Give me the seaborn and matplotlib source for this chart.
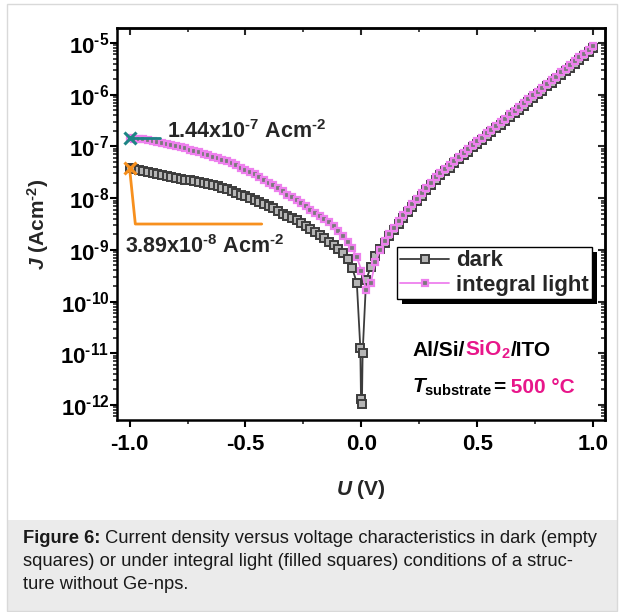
import numpy as np
import pandas as pd
import matplotlib
matplotlib.use('Agg')
import matplotlib.pyplot as plt
import matplotlib.ticker as mticker
from matplotlib.patches import Rectangle
from matplotlib.transforms import offset_copy, IdentityTransform
import seaborn as sns

sns.set_style('ticks')
plt.rcParams['font.family'] = ['Liberation Sans', 'DejaVu Sans']
plt.rcParams['mathtext.fontset'] = 'custom'
plt.rcParams['mathtext.rm'] = 'Liberation Sans:bold'
plt.rcParams['mathtext.it'] = 'Liberation Sans:italic:bold'
plt.rcParams['mathtext.bf'] = 'Liberation Sans:bold'
plt.rcParams['axes.unicode_minus'] = False

# sweep voltages (V)
U_neg = [-1.00, -0.98, -0.96, -0.94, -0.92, -0.90, -0.88, -0.86, -0.84, -0.82,
         -0.80, -0.78, -0.76, -0.74, -0.72, -0.70, -0.68, -0.66, -0.64, -0.62,
         -0.60, -0.58, -0.56, -0.54, -0.52, -0.50, -0.48, -0.46, -0.44, -0.42,
         -0.40, -0.38, -0.36, -0.34, -0.32, -0.30, -0.28, -0.26, -0.24, -0.22,
         -0.20, -0.18, -0.16, -0.14, -0.12, -0.10, -0.08, -0.06, -0.04, -0.02]
U_pos = [0.02, 0.04, 0.06, 0.08, 0.10, 0.12, 0.14, 0.16, 0.18, 0.20,
         0.22, 0.24, 0.26, 0.28, 0.30, 0.32, 0.34, 0.36, 0.38, 0.40,
         0.42, 0.44, 0.46, 0.48, 0.50, 0.52, 0.54, 0.56, 0.58, 0.60,
         0.62, 0.64, 0.66, 0.68, 0.70, 0.72, 0.74, 0.76, 0.78, 0.80,
         0.82, 0.84, 0.86, 0.88, 0.90, 0.92, 0.94, 0.96, 0.98, 1.00]
U_dark_zero = [-0.005, -0.002, 0.002, 0.005]
U_light_zero = [0.00]

# log10 of J (A/cm2)
logJ_dark_neg = [-7.41, -7.43, -7.45, -7.47, -7.49, -7.51, -7.53, -7.55, -7.57, -7.59,
                 -7.61, -7.63, -7.64, -7.65, -7.67, -7.69, -7.71, -7.73, -7.75, -7.77,
                 -7.80, -7.83, -7.87, -7.90, -7.93, -7.96, -8.00, -8.03, -8.07, -8.11,
                 -8.16, -8.20, -8.25, -8.30, -8.35, -8.39, -8.43, -8.48, -8.54, -8.59,
                 -8.65, -8.71, -8.78, -8.85, -8.91, -8.98, -9.07, -9.18, -9.35, -9.64]
logJ_dark_zero = [-10.89, -11.89, -11.98, -11.00]
logJ_dark_pos = [-9.58, -9.33, -9.12, -8.98, -8.86, -8.74, -8.62, -8.50, -8.38, -8.27,
                 -8.17, -8.06, -7.96, -7.85, -7.75, -7.65, -7.56, -7.48, -7.41, -7.33,
                 -7.25, -7.17, -7.10, -7.02, -6.95, -6.88, -6.80, -6.73, -6.65, -6.58,
                 -6.51, -6.43, -6.36, -6.29, -6.21, -6.14, -6.06, -5.99, -5.92, -5.84,
                 -5.77, -5.70, -5.62, -5.55, -5.48, -5.40, -5.33, -5.26, -5.18, -5.10]

logJ_light_neg = [-6.84, -6.85, -6.85, -6.86, -6.88, -6.90, -6.92, -6.94, -6.96, -6.98,
                  -7.00, -7.02, -7.04, -7.06, -7.08, -7.11, -7.14, -7.17, -7.20, -7.23,
                  -7.26, -7.29, -7.33, -7.36, -7.41, -7.45, -7.50, -7.54, -7.59, -7.64,
                  -7.70, -7.75, -7.81, -7.87, -7.93, -7.98, -8.04, -8.10, -8.16, -8.22,
                  -8.28, -8.34, -8.40, -8.46, -8.54, -8.63, -8.73, -8.84, -8.97, -9.14]
logJ_light_zero = [-9.40]
logJ_light_pos = [-9.78, -9.64, -9.24, -9.00, -8.82, -8.70, -8.58, -8.45, -8.33, -8.22,
                  -8.12, -8.01, -7.91, -7.80, -7.70, -7.59, -7.51, -7.43, -7.36, -7.28,
                  -7.20, -7.12, -7.05, -6.97, -6.90, -6.83, -6.75, -6.68, -6.60, -6.53,
                  -6.46, -6.38, -6.31, -6.24, -6.16, -6.09, -6.01, -5.94, -5.87, -5.79,
                  -5.72, -5.65, -5.57, -5.50, -5.43, -5.35, -5.28, -5.21, -5.13, -5.06]

# marked values at U = -1 V
U_mark = -1.0
J_mark_light = 1.44e-7
J_mark_dark = 3.89e-8
HY = '\u2010'  # short hyphen for the exponents
label_light = '1.44x10$^{%s7}$ Acm$^{%s2}$' % (HY, HY)
label_dark = '3.89x10$^{%s8}$ Acm$^{%s2}$' % (HY, HY)

dark = pd.DataFrame({'U': U_neg + U_dark_zero + U_pos,
                     'J': 10 ** np.array(logJ_dark_neg + logJ_dark_zero + logJ_dark_pos)})
light = pd.DataFrame({'U': U_neg + U_light_zero + U_pos,
                      'J': 10 ** np.array(logJ_light_neg + logJ_light_zero + logJ_light_pos)})

PINK = '#e8168a'
VIOLET = '#ee80ee'
TEAL = '#1d8585'
ORANGE = '#f7901e'

fig = plt.figure(figsize=(6.24, 6.12), dpi=100)
ax = fig.add_axes([117/624, 1 - 420/612, 488/624, 392/612])

sns.lineplot(data=dark, x='U', y='J', ax=ax, sort=False, estimator=None,
             color='#3c3c3c', lw=1.3, marker='s', ms=5.2, mew=1.4,
             mfc='#b5b5b5', mec='#3c3c3c', label='dark', zorder=3)
sns.lineplot(data=light, x='U', y='J', ax=ax, sort=False, estimator=None,
             color=VIOLET, lw=1.3, marker='s', ms=5.0, mew=1.6,
             mfc='#7a7a7a', mec=VIOLET, label='integral light', zorder=4)

ax.set_yscale('log')
ax.set_xlim(-1.054, 1.05)
ax.set_ylim(10 ** -12.29, 10 ** -4.71)

# markers of the values at -1 V
ax.plot([U_mark, -0.87], [J_mark_light, J_mark_light], color=TEAL, lw=2, zorder=5)
ax.plot([U_mark], [J_mark_light], marker='x', color=TEAL, ms=8, mew=2.2, zorder=6)
ax.plot([U_mark, -0.975, -0.43], [J_mark_dark, 3.16e-9, 3.16e-9], color=ORANGE, lw=2, zorder=5)
ax.plot([U_mark], [J_mark_dark], marker='x', color=ORANGE, ms=8, mew=2.2, zorder=6)
ax.text(-0.84, J_mark_light, label_light, fontsize=15.5, fontweight='bold', va='baseline')
ax.text(-1.02, 8.7e-10, label_dark, fontsize=15.5, fontweight='bold', va='baseline')

# axes styling
for sp in ax.spines.values():
    sp.set_linewidth(1.8)
    sp.set_color('black')
    sp.set_visible(True)
ax.xaxis.set_major_locator(mticker.MultipleLocator(0.5))
ax.xaxis.set_minor_locator(mticker.MultipleLocator(0.25))
ax.xaxis.set_major_formatter(mticker.FormatStrFormatter('%.1f'))
ax.yaxis.set_major_locator(mticker.LogLocator(base=10, numticks=20))
ax.yaxis.set_minor_locator(mticker.LogLocator(base=10, subs=np.arange(2, 10), numticks=20))
ax.yaxis.set_major_formatter(mticker.FuncFormatter(
    lambda v, p: r'$10^{%s%d}$' % (HY, -round(np.log10(v)))))
ax.yaxis.set_minor_formatter(mticker.NullFormatter())
ax.tick_params(which='major', direction='out', length=5, width=1.5, labelsize=16, colors='black')
ax.tick_params(which='minor', direction='out', length=3, width=1.2)
ax.tick_params(axis='x', which='major', pad=5)
ax.tick_params(axis='y', which='major', pad=0.5)
for lab in ax.get_xticklabels():
    lab.set_fontweight('bold')

top = ax.secondary_xaxis('top')
top.xaxis.set_major_locator(mticker.MultipleLocator(0.5))
top.xaxis.set_minor_locator(mticker.MultipleLocator(0.25))
top.tick_params(which='major', direction='in', length=5, width=1.5, labeltop=False)
top.tick_params(which='minor', direction='in', length=3, width=1.2)
top.spines['top'].set_linewidth(1.8)
right = ax.secondary_yaxis('right')
right.yaxis.set_major_locator(mticker.LogLocator(base=10, numticks=20))
right.yaxis.set_minor_locator(mticker.LogLocator(base=10, subs=np.arange(2, 10), numticks=20))
right.tick_params(which='major', direction='in', length=5, width=1.5, labelright=False)
right.tick_params(which='minor', direction='in', length=3, width=1.2, labelright=False)
right.spines['right'].set_linewidth(1.8)

ax.set_xlabel('$U$ (V)', fontsize=15, fontweight='bold')
ax.set_ylabel('$J$ (Acm$^{%s2}$)' % HY, fontsize=15, fontweight='bold')
ax.xaxis.set_label_coords(0.5, -0.148)
ax.yaxis.set_label_coords(-0.135, 0.5)

leg = ax.legend(loc='upper left', bbox_to_anchor=(0.574, 0.441), borderaxespad=0,
                prop={'weight': 'bold', 'size': 16}, frameon=True, fancybox=False,
                framealpha=1, edgecolor='black', borderpad=0.15, handlelength=2.2,
                handletextpad=0.3, labelspacing=0.15)
leg.get_frame().set_linewidth(1.0)
leg.set_zorder(10)


def chain_text(x, y, pieces, transform, **kw):
    fig.canvas.draw()
    renderer = fig.canvas.get_renderer()
    t_trans = transform
    for s, c, extra in pieces:
        opts = dict(kw)
        opts.update(extra)
        t = fig.text(x, y, s, color=c, transform=t_trans, va='baseline', **opts)
        t.draw(renderer)
        ex = t.get_window_extent(renderer)
        t_trans = offset_copy(t.get_transform(), fig=fig, x=ex.width, units='dots')


chain_text(0.22, 10 ** -11.05,
           [('Al/Si/', 'black', {}), ('SiO$_2$', PINK, {}), ('/ITO', 'black', {})],
           ax.transData, fontsize=15, fontweight='bold')
chain_text(0.22, 10 ** -11.77,
           [('$T_{\\mathrm{substrate}}$', 'black', {}), ('=', 'black', {}), (' 500 °C', PINK, {})],
           ax.transData, fontsize=15, fontweight='bold')

# legend shadow
fig.canvas.draw()
lb = leg.get_window_extent(fig.canvas.get_renderer())
ax.add_patch(Rectangle((lb.x0 + 5, lb.y0 - 5), lb.width, lb.height, transform=IdentityTransform(),
                       facecolor='black', edgecolor='none', zorder=9, clip_on=False))

# figure panel and caption box
fig.patches.append(Rectangle((8/624, 1/612), 609/624, 91/612, transform=fig.transFigure,
                             facecolor='#ebebeb', edgecolor='none', zorder=0))
fig.patches.append(Rectangle((7/624, 1/612), 610/624, 607/612, transform=fig.transFigure,
                             fill=False, edgecolor='#d9d9d9', lw=1, zorder=0))

cap = 13.2
chain_text(23/624, 1 - 543/612, [('Figure 6:', '#1a1a1a', {'fontweight': 'bold'}),
                                 (' Current density versus voltage characteristics in dark (empty', '#1a1a1a', {})],
           fig.transFigure, fontsize=cap)
fig.text(23/624, 1 - 566/612, 'squares) or under integral light (filled squares) conditions of a struc-',
         color='#1a1a1a', fontsize=cap, va='baseline')
fig.text(23/624, 1 - 589/612, 'ture without Ge-nps.', color='#1a1a1a', fontsize=cap, va='baseline')

fig.savefig('out.png', dpi=100)
